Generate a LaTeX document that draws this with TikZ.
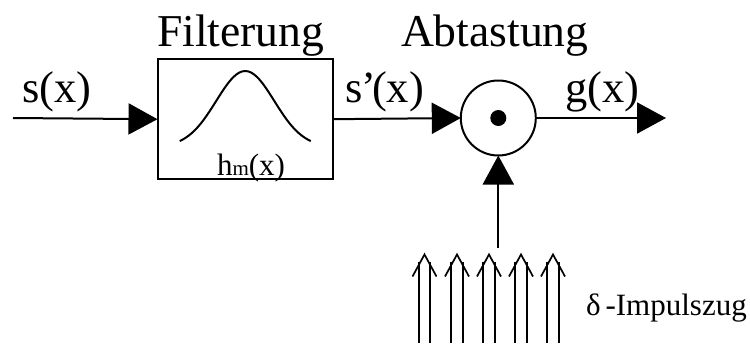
\documentclass[tikz,border=0pt]{standalone}
\usepackage{fontspec}
\setmainfont{Liberation Serif}
\usetikzlibrary{arrows.meta}
\tikzset{
  x=1pt,y=-1pt,
  wire/.style={line width=2pt,-{Triangle[length=29pt,width=31pt]}},
  curve/.style={line width=2pt,line join=round},
  title/.style={anchor=base west,inner sep=0pt,outer sep=0pt,font=\fontsize{45.6}{46}\selectfont},
  lbl/.style={anchor=base west,inner sep=0pt,outer sep=0pt,font=\fontsize{44.5}{45}\selectfont},
  small/.style={anchor=base west,inner sep=0pt,outer sep=0pt,font=\fontsize{31}{32}\selectfont},
  blockbox/.style={draw,line width=2pt,rectangle,minimum width=175.5pt,minimum height=120.5pt,inner sep=0pt,outer sep=0pt},
  mixer/.style={draw,line width=2pt,circle,minimum size=75pt,inner sep=0pt,outer sep=0pt},
  impulse/.style={line width=1.7pt}
}
\begin{document}
\begin{tikzpicture}
\useasboundingbox (0,0) rectangle (750,343);
\node[blockbox] (filter) at (245.25,119.2) {};
\node[mixer] (mix) at (498.3,118) {};
\fill (mix.center) circle (8pt);
\coordinate (in) at (13,118);
\coordinate (out) at (666,118);
\coordinate (train) at (498.3,248);
\draw[wire] (in) -- (filter.west);
\draw[wire] (filter.east) -- (mix.west);
\draw[wire] (mix.east) -- (out);
\draw[wire] (train) -- (mix.south);
\draw[curve] plot[smooth,samples=45,domain=-65.5:65.5] ({245.25+\x},{71+71*(1-exp(-(\x*\x)/(2*29*29)))*1.07});
\foreach \n/\c in {a/424.5,b/457,c/489,d/521,e/553}{
  \coordinate (\n tip) at (\c,254.5);
  \draw[impulse] (\c-5.8,262) -- (\c-5.8,343) (\c+5.8,262) -- (\c+5.8,343);
  \draw[impulse] (\c-12,276.5) -- (\n tip) -- (\c+12,276.5);
}
\node[title] (t1) at (157,46.7) {Filterung};
\node[title] (t2) at (401,46.7) {Abtastung};
\node[lbl] (l1) at (22,102) {s(x)};
\node[lbl] (l2) at (345,102) {s\kern-1pt’\kern-4pt(x)};
\node[lbl] (l3) at (565,102) {g(x)};
\node[small] (h) at (217,175.7) {h{\fontsize{21}{21}\selectfont m}(x)};
\node[small] (d) at (586,315) {δ\kern5pt-Impulszug};
\end{tikzpicture}
\end{document}
